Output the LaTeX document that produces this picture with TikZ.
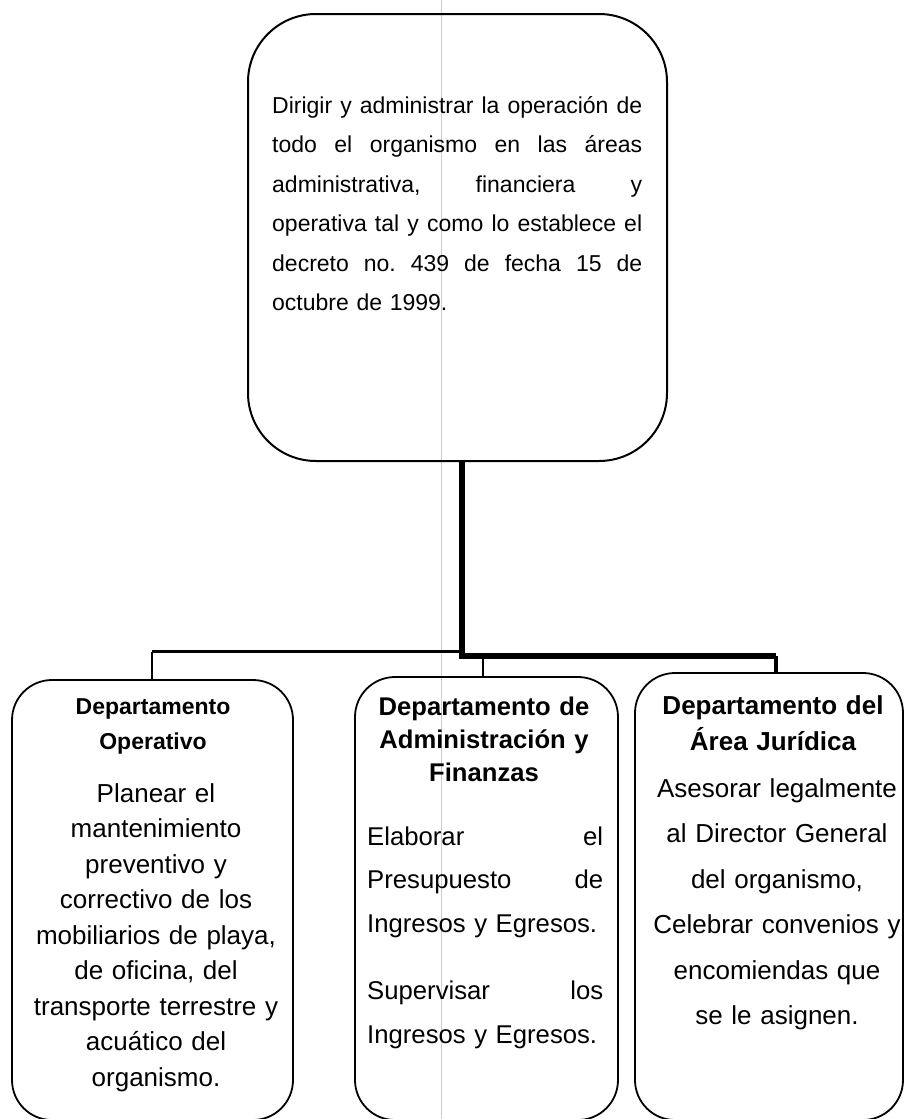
\documentclass[tikz,border=0pt]{standalone}
\usepackage{fontspec}
\setmainfont{Liberation Sans}
\newcommand{\jline}[2]{\makebox[#1]{#2}}
\begin{document}
\begin{tikzpicture}[x=1pt,y=-1pt,
  boxtop/.style={draw=black, line width=2pt, rounded corners=68pt, inner sep=0pt},
  boxdep/.style={draw=black, line width=1.8pt, rounded corners=40pt, inner sep=0pt},
  heavy/.style={line width=6pt},
  medium/.style={line width=3pt},
  light/.style={line width=2.4pt},
  txt/.style={inner sep=0pt}
]
\useasboundingbox (0,0) rectangle (906,1119);
% scan fold line
\draw[gray!40, line width=0.8pt] (441,0) -- (441,1119);

% boxes
\node[boxtop, minimum width=419pt, minimum height=447pt] (top) at (457.5,237.5) {};
\node[boxdep, minimum width=281pt, minimum height=440pt] (b1) at (152.5,900) {};
\node[boxdep, minimum width=263pt, minimum height=443pt] (b2) at (486.5,898.5) {};
\node[boxdep, minimum width=268pt, minimum height=447pt] (b3) at (769,896.5) {};

% connectors
\coordinate (jm) at (462,656);
\coordinate (jr) at (776,656);
\coordinate (jl) at (152,651.5);
\coordinate (jc) at (483,656);
\draw[heavy] (jm |- top.south) -- (jm) -- (jr);
\draw[line width=4.5pt] (jr) -- (jr |- b3.north);
\draw[medium] (jm |- jl) -- (jl);
\draw[line width=2.5pt] (jl) -- (jl |- b1.north);
\draw[light] (jc) -- (jc |- b2.north);

% top text
\node[txt, anchor=base west, text width=370pt, align=left,
      font=\fontsize{23}{39.5}\selectfont] (ttext) at (272,113)
 {\jline{370pt}{Dirigir\hfill y\hfill administrar\hfill la\hfill operación\hfill de}\\
  \jline{370pt}{todo\hfill el\hfill organismo\hfill en\hfill las\hfill áreas}\\
  \jline{370pt}{administrativa,\hfill financiera\hfill y}\\
  \jline{370pt}{operativa\hfill tal\hfill y\hfill como\hfill lo\hfill establece\hfill el}\\
  \jline{370pt}{decreto\hfill no.\hfill 439\hfill de\hfill fecha\hfill 15\hfill de}\\
  octubre de 1999.};

% left box
\node[txt, anchor=base, text width=270pt, align=center,
      font=\bfseries\fontsize{23}{35}\selectfont] (h1) at (153,714)
 {Departamento\\ Operativo};
\node[txt, anchor=base, text width=275pt, align=center,
      font=\fontsize{26}{35.5}\selectfont] (t1) at (156,802)
 {Planear el\\ mantenimiento\\ preventivo y\\ correctivo de los\\ mobiliarios de playa,\\ de oficina, del\\ transporte terrestre y\\ acuático del\\ organismo.};

% middle box
\node[txt, anchor=base, text width=255pt, align=center,
      font=\bfseries\fontsize{25.6}{33}\selectfont] (h2) at (484,715)
 {Departamento de\\ Administración y\\ Finanzas};
\node[txt, anchor=base west, text width=236pt, align=left,
      font=\fontsize{25.7}{43.5}\selectfont] (t2) at (367,845)
 {\jline{236pt}{Elaborar\hfill el}\\
  \jline{236pt}{Presupuesto\hfill de}\\
  Ingresos y Egresos.\\[24pt]
  \jline{236pt}{Supervisar\hfill los}\\
  Ingresos y Egresos.};

% right box
\node[txt, anchor=base, text width=260pt, align=center,
      font=\bfseries\fontsize{26}{36}\selectfont] (h3) at (773,714)
 {Departamento del\\ Área Jurídica};
\node[txt, anchor=base, text width=260pt, align=center,
      font=\fontsize{26}{45.5}\selectfont] (t3) at (777,797)
 {Asesorar legalmente\\ al Director General\\ del organismo,\\ Celebrar convenios y\\ encomiendas que\\ se le asignen.};
\end{tikzpicture}
\end{document}
